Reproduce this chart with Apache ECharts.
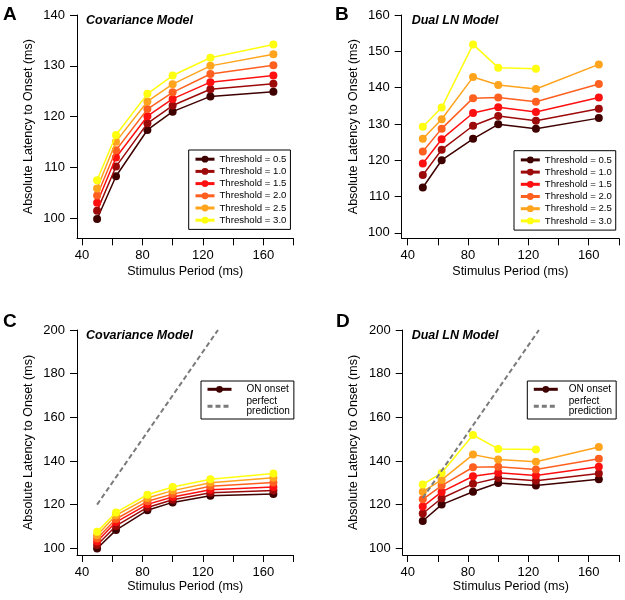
<!DOCTYPE html>
<html>
<head>
<meta charset="utf-8">
<script src="https://cdn.jsdelivr.net/npm/echarts@6/dist/echarts.min.js"></script>
<style>
html,body{margin:0;padding:0;background:#fff;}
#chart{width:625px;height:600px;}
</style>
</head>
<body>
<div id="chart"></div>
<script>
// ---- data ----
const periods = [50, 62.5, 83.3, 100, 125, 166.7];
const thresholdNames = ['Threshold = 0.5','Threshold = 1.0','Threshold = 1.5','Threshold = 2.0','Threshold = 2.5','Threshold = 3.0'];

// Covariance model latencies (ms)
const covT05 = [99.9, 108.3, 117.4, 121.0, 124.0, 124.9];
const covT10 = [101.5, 110.2, 118.7, 122.2, 125.4, 126.5];
const covT15 = [103.1, 112.0, 120.1, 123.5, 126.8, 128.1];
const covT20 = [104.5, 113.4, 121.5, 124.8, 128.4, 130.1];
const covT25 = [105.9, 115.1, 123.0, 126.4, 130.0, 132.3];
const covT30 = [107.5, 116.4, 124.5, 128.1, 131.6, 134.2];

// Dual LN model latencies (ms)
const dualT05 = [112.5, 120.0, 125.9, 129.9, 128.7, 131.6];
const dualT10 = [115.9, 122.9, 129.5, 132.2, 130.9, 134.2];
const dualT15 = [119.1, 125.8, 133.0, 134.6, 133.3, 137.3];
const dualT20 = [122.4, 128.7, 137.1, 137.3, 136.1, 141.0];
const dualT25 = [125.9, 131.3, 142.9, 140.7, 139.6, 146.4];
const dualT30 = [129.2, 134.5, 151.9, 145.5, 145.2, null];

// perfect prediction lines
const predXC = [50, 130];
const predYC = [120, 200];
const predXD = [50, 127];
const predYD = [123, 200];

// ticks
const xLabelTicks = [40, 80, 120, 160];
const xMarkTicks = [40, 60, 80, 100, 120, 140, 160, 180];
const yTicksA = [100, 110, 120, 130, 140];
const yTicksB = [100, 110, 120, 130, 140, 150, 160];
const yTicksCD = [100, 120, 140, 160, 180, 200];

// ---- styling ----
const colors = ['#3f0000', '#9c0a0a', '#ff1010', '#ff6020', '#ffa41c', '#ffff10'];
const FONT = 'Liberation Sans';
const covVals = [covT05, covT10, covT15, covT20, covT25, covT30];
const dualVals = [dualT05, dualT10, dualT15, dualT20, dualT25, dualT30];

function pts(xs, ys) {
  const out = [];
  xs.forEach((x, i) => { if (ys[i] !== null && ys[i] !== undefined) out.push([x, ys[i]]); });
  return out;
}

const grids = [
  {left: 77, top: 15, width: 216.5, height: 223.3},
  {left: 401.7, top: 15, width: 217.2, height: 223.3},
  {left: 77, top: 330, width: 216.5, height: 225},
  {left: 402.7, top: 330, width: 216.2, height: 225}
];
const xRanges = [[36.7, 180], [36, 180], [36.7, 180], [36.7, 180]];
const yRanges = [[96.1, 140], [98.5, 160], [96.9, 200], [96.9, 200]];
const yTicks = [yTicksA, yTicksB, yTicksCD, yTicksCD];
const yNameGap = [42, 42, 42, 43];
const xNameGap = [27, 27, 25, 25];

const xAxes = grids.map((g, i) => ({
  type: 'value', gridIndex: i, min: xRanges[i][0], max: xRanges[i][1],
  name: 'Stimulus Period (ms)', nameLocation: 'middle', nameGap: xNameGap[i],
  nameTextStyle: {fontFamily: FONT, fontSize: 12.5, color: '#000'},
  axisLine: {show: true, onZero: false, lineStyle: {color: '#000', width: 1}},
  axisTick: {show: true, inside: false, length: 7, lineStyle: {color: '#000'}, customValues: xMarkTicks},
  axisLabel: {show: true, margin: 11, fontFamily: FONT, fontSize: 13, color: '#000', customValues: xLabelTicks},
  splitLine: {show: false}
}));
const yAxes = grids.map((g, i) => ({
  type: 'value', gridIndex: i, min: yRanges[i][0], max: yRanges[i][1],
  name: 'Absolute Latency to Onset (ms)', nameLocation: 'middle', nameGap: yNameGap[i],
  nameTextStyle: {fontFamily: FONT, fontSize: 12.5, color: '#000'},
  axisLine: {show: true, onZero: false, lineStyle: {color: '#000', width: 1}},
  axisTick: {show: true, inside: false, length: 7, lineStyle: {color: '#000'}, customValues: yTicks[i]},
  axisLabel: {show: true, margin: 12, fontFamily: FONT, fontSize: 13, color: '#000', customValues: yTicks[i]},
  splitLine: {show: false}
}));

const series = [];
function addSet(gridIdx, vals, namesFn) {
  vals.forEach((v, k) => {
    series.push({
      type: 'line', name: namesFn(k), xAxisIndex: gridIdx, yAxisIndex: gridIdx,
      data: pts(periods, v), symbol: 'circle', symbolSize: 8, showSymbol: true,
      lineStyle: {color: colors[k], width: 1.5},
      itemStyle: {color: colors[k], borderWidth: 0},
      z: 2 + k, animation: false, silent: true
    });
  });
}
addSet(0, covVals, k => thresholdNames[k]);
addSet(1, dualVals, k => thresholdNames[k]);
addSet(2, covVals, k => k === 0 ? 'ON onset' : 'C' + k);
addSet(3, dualVals, k => k === 0 ? 'ON onset' : 'D' + k);
[[2, predXC, predYC], [3, predXD, predYD]].forEach(([gi, xs, ys]) => {
  series.push({
    type: 'line', name: 'perfect prediction', xAxisIndex: gi, yAxisIndex: gi,
    data: pts(xs, ys), symbol: 'none', showSymbol: false,
    lineStyle: {color: '#7a7a7a', width: 2, type: [5, 3]},
    itemStyle: {color: '#7a7a7a'},
    z: 20, animation: false, silent: true
  });
});

const thrLegend = (left, top) => ({
  left: left, top: top, orient: 'vertical', selectedMode: false,
  data: thresholdNames, backgroundColor: '#fff',
  borderColor: '#000', borderWidth: 1, borderRadius: 0,
  padding: [4.2, 4, 4.2, 5.3], itemWidth: 19, itemHeight: 8.5, itemGap: 2.2,
  lineStyle: {width: 3},
  textStyle: {fontFamily: FONT, fontSize: 9.6, lineHeight: 10, color: '#000'}
});
const onLegend = (left, top, textPad) => ({
  left: left, top: top, orient: 'vertical', selectedMode: false,
  data: ['ON onset', {name: 'perfect prediction', itemStyle: {color: 'rgba(0,0,0,0)', opacity: 0}}],
  backgroundColor: '#fff',
  borderColor: '#000', borderWidth: 1, borderRadius: 0,
  padding: [3.3, 4, 2.7, 5], itemWidth: 24, itemHeight: 8.5, itemGap: 2,
  lineStyle: {width: 3},
  formatter: n => n === 'perfect prediction' ? 'perfect\nprediction' : n,
  textStyle: {fontFamily: FONT, fontSize: 10, lineHeight: 10, color: '#000', padding: [0, 0, 0, textPad]}
});

const titleStyle = {fontFamily: FONT, fontSize: 12.5, fontWeight: 'bold', fontStyle: 'italic', color: '#000'};
const letterStyle = {fontFamily: FONT, fontSize: 19, fontWeight: 'bold', color: '#000'};

const option = {
  backgroundColor: '#fff',
  animation: false,
  title: [
    {text: 'A', left: 3, top: 5, padding: 0, textStyle: letterStyle},
    {text: 'B', left: 335, top: 5, padding: 0, textStyle: letterStyle},
    {text: 'C', left: 3, top: 312, padding: 0, textStyle: letterStyle},
    {text: 'D', left: 336, top: 312, padding: 0, textStyle: letterStyle},
    {text: 'Covariance Model', left: 86, top: 14, padding: 0, textStyle: titleStyle},
    {text: 'Dual LN Model', left: 411.7, top: 14, padding: 0, textStyle: titleStyle},
    {text: 'Covariance Model', left: 86, top: 329.5, padding: 0, textStyle: titleStyle},
    {text: 'Dual LN Model', left: 411.7, top: 329.5, padding: 0, textStyle: titleStyle}
  ],
  legend: [
    thrLegend(188.7, 150),
    thrLegend(514, 150.7),
    onLegend(201, 381, 10),
    onLegend(527.3, 381, 6)
  ],
  grid: grids,
  xAxis: xAxes,
  yAxis: yAxes,
  series: series
};

const chart = echarts.init(document.getElementById('chart'), null, {renderer: 'canvas'});
chart.setOption(option);
</script>
</body>
</html>
